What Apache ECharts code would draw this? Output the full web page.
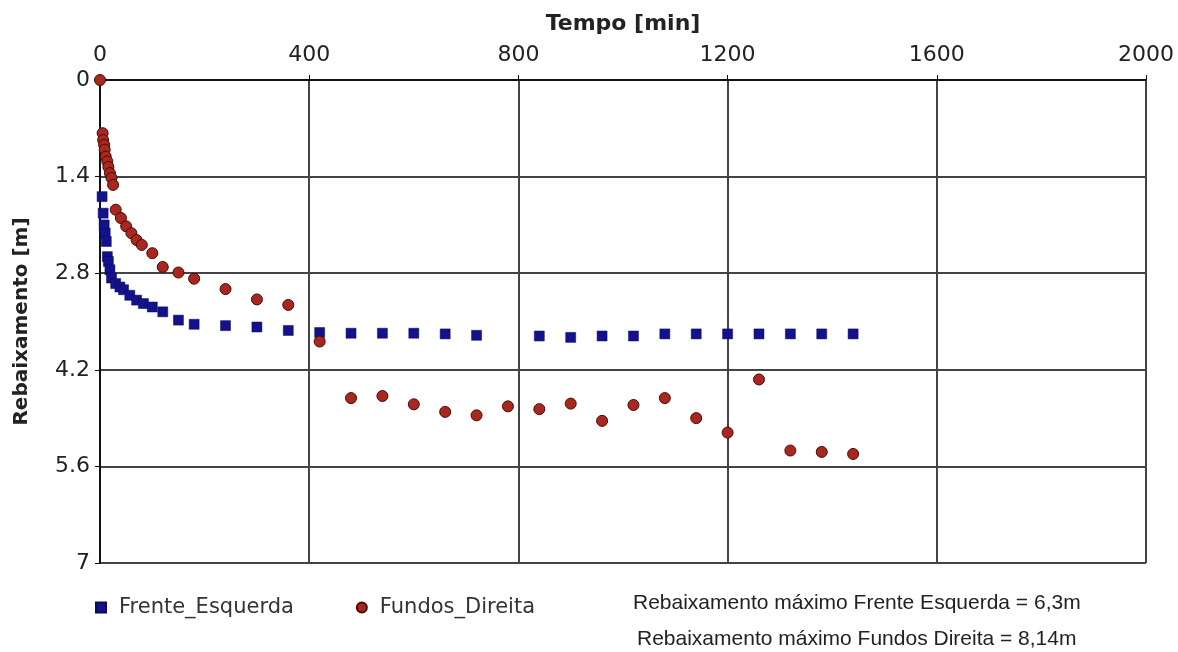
<!DOCTYPE html>
<html>
<head>
<meta charset="utf-8">
<script src="https://cdn.jsdelivr.net/npm/echarts@6/dist/echarts.min.js"></script>
<style>
html,body{margin:0;padding:0;background:#fff;}
#chart{width:1178px;height:652px;}
</style>
</head>
<body>
<div id="chart"></div>
<script>
const xTicks = [0, 400, 800, 1200, 1600, 2000];
const yTicks = [0, 1.4, 2.8, 4.2, 5.6, 7];

const frenteTempo = [4,6,8,10,12,14,16,19,22,30,38,45,57,70,83,100,120,150,180,240,300,360,420,480,540,600,660,720,840,900,960,1020,1080,1140,1200,1260,1320,1380,1440];
const frenteRebaix = [1.69,1.93,2.10,2.22,2.34,2.56,2.63,2.75,2.87,2.95,3.00,3.04,3.12,3.19,3.24,3.29,3.36,3.48,3.54,3.56,3.58,3.63,3.66,3.67,3.67,3.67,3.68,3.70,3.71,3.73,3.71,3.71,3.68,3.68,3.68,3.68,3.68,3.68,3.68];

const fundosTempo = [0,5,6,8,9,11,14,16,19,22,25,30,40,50,60,70,80,100,120,150,180,240,300,360,420,480,540,600,660,720,780,840,900,960,1020,1080,1140,1200,1260,1320,1380,1440];
const fundosRebaix = [0,0.77,0.87,0.94,1.01,1.11,1.18,1.26,1.35,1.42,1.52,1.88,2.00,2.12,2.22,2.32,2.39,2.51,2.71,2.79,2.88,3.03,3.18,3.26,3.79,4.61,4.58,4.70,4.81,4.86,4.73,4.77,4.69,4.94,4.71,4.61,4.90,5.11,4.34,5.37,5.39,5.42];

const seriesNames = ['Frente_Esquerda', 'Fundos_Direita'];
const notes = ['Rebaixamento máximo Frente Esquerda = 6,3m', 'Rebaixamento máximo Fundos Direita = 8,14m'];

const frenteData = frenteTempo.map((t, i) => [t, frenteRebaix[i]]);
const fundosData = fundosTempo.map((t, i) => [t, fundosRebaix[i]]);

const chart = echarts.init(document.getElementById('chart'));
const labelFont = 'DejaVu Sans';
chart.setOption({
  backgroundColor: '#ffffff',
  animation: false,
  grid: { left: 100, top: 80, right: 32, bottom: 89 },
  xAxis: {
    type: 'value', position: 'top', min: xTicks[0], max: xTicks[xTicks.length-1], interval: 400,
    name: 'Tempo [min]', nameLocation: 'middle', nameGap: 45,
    nameTextStyle: { fontFamily: labelFont, fontWeight: 'bold', fontSize: 22, color: '#222' },
    axisLine: { show: true, lineStyle: { color: '#111', width: 2 } },
    axisTick: { show: true, length: 5, lineStyle: { color: '#111', width: 1 } },
    axisLabel: { fontFamily: labelFont, fontSize: 22, color: '#222', margin: 14,
      formatter: v => String(v) },
    splitLine: { show: true, lineStyle: { color: '#444', width: 2 } }
  },
  yAxis: {
    type: 'value', inverse: true, min: 0, max: 7, interval: 1.4,
    name: 'Rebaixamento [m]', nameLocation: 'middle', nameGap: 68,
    nameTextStyle: { fontFamily: labelFont, fontWeight: 'bold', fontSize: 20, color: '#222' },
    axisLine: { show: true, lineStyle: { color: '#111', width: 2 } },
    axisTick: { show: true, length: 5, lineStyle: { color: '#111', width: 1 } },
    axisLabel: { fontFamily: labelFont, fontSize: 22, color: '#222', margin: 10,
      formatter: v => String(Math.round(v * 10) / 10) },
    splitLine: { show: true, lineStyle: { color: '#444', width: 2 } }
  },
  legend: {
    left: 90, top: 592, itemWidth: 10, itemHeight: 10, itemGap: 62,
    textStyle: { fontFamily: labelFont, fontSize: 21, color: '#333', padding: [0, 0, 0, 8] },
    data: [
      { name: seriesNames[0], icon: 'rect' },
      { name: seriesNames[1], icon: 'circle' }
    ]
  },
  graphic: [
    { type: 'text', left: 633, top: 593, style: { text: notes[0], fontFamily: 'Liberation Sans', fontSize: 21, fill: '#222' } },
    { type: 'text', left: 637, top: 629, style: { text: notes[1], fontFamily: 'Liberation Sans', fontSize: 21, fill: '#222' } }
  ],
  series: [
    {
      name: seriesNames[0], type: 'scatter', symbol: 'rect', symbolSize: 10,
      itemStyle: { color: '#12128c', borderColor: '#0a0a5a', borderWidth: 0.5, opacity: 1 },
      data: frenteData, z: 3
    },
    {
      name: seriesNames[1], type: 'scatter', symbol: 'circle', symbolSize: 11,
      itemStyle: { color: '#a82820', borderColor: '#4a0a05', borderWidth: 1, opacity: 1 },
      data: fundosData, z: 4
    }
  ]
});
</script>
</body>
</html>
